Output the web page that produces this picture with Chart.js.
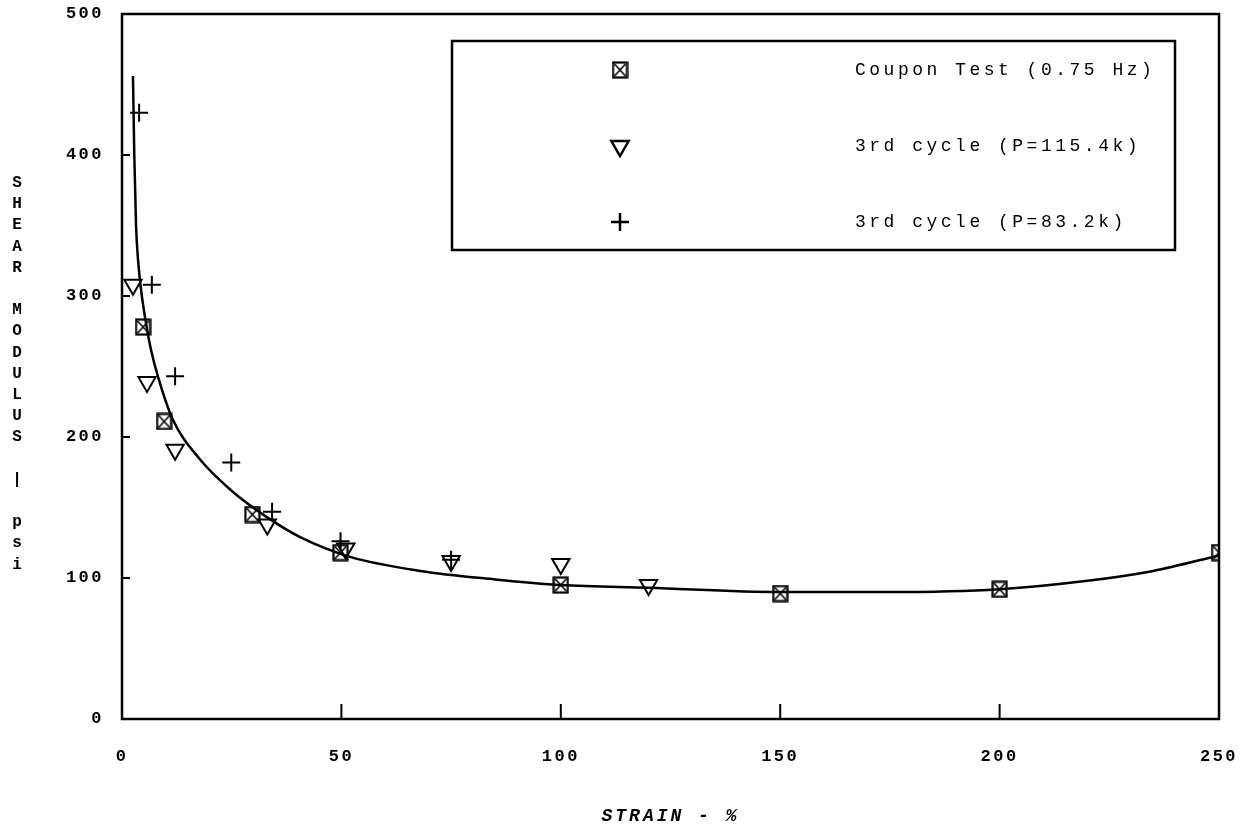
<!DOCTYPE html>
<html>
<head>
<meta charset="utf-8">
<script src="https://cdn.jsdelivr.net/npm/chart.js@4.4.0/dist/chart.umd.min.js"></script>
<style>
    html, body { margin: 0; padding: 0; background: #fff; }
    #wrap { width: 1246px; height: 826px; position: relative; }
</style>
</head>
<body>
<div id="wrap"><canvas id="shear-chart"></canvas></div>
<script>
// tick labels
const xTicks = [0, 50, 100, 150, 200, 250];
const yTicks = [0, 100, 200, 300, 400, 500];

// fitted curve
const curveX = [2.5, 2.8, 3.2, 3.7, 4.4, 5.4, 6.6, 8.0, 11.5, 17.8, 25.3, 33.1, 40.6, 52, 68, 85, 100, 120, 150, 175, 200, 220, 235, 250];
const curveY = [456, 400, 350, 324, 303, 282, 262, 245, 213, 184, 161, 143, 129, 115, 105, 99, 95, 93, 90, 90, 92, 98, 105, 116];

// Coupon Test (0.75 Hz)
const couponX = [4.8, 9.6, 29.7, 49.8, 100, 150, 200, 250];
const couponY = [278, 211, 145, 118, 95, 89, 92, 118];

// 3rd cycle (P=115.4k)
const cycleAX = [2.5, 5.7, 12.1, 33.1, 51, 75, 100, 120];
const cycleAY = [308, 239, 191, 138, 121, 112, 110, 95];

// 3rd cycle (P=83.2k)
const cycleBX = [3.9, 6.8, 12.1, 24.9, 34.2, 49.8, 75];
const cycleBY = [430, 308, 243, 182, 147, 126, 113];

const yTitle = "SHEAR MODULUS | psi";
const xTitle = "STRAIN - %";

function pairs(xs, ys) {
    return xs.map((x, i) => ({ x: x, y: ys[i] }));
}

// box with a cross in it
function boxCross(w, h) {
    const c = document.createElement("canvas");
    c.width = w;
    c.height = h;
    const g = c.getContext("2d");
    g.strokeStyle = "#000";
    g.lineWidth = 2.2;
    g.strokeRect(1.5, 1.5, w - 3, h - 3);
    g.lineWidth = 1.6;
    g.beginPath();
    g.moveTo(3, 3); g.lineTo(w - 3, h - 3);
    g.moveTo(w - 3, 3); g.lineTo(3, h - 3);
    g.stroke();
    return c;
}
const boxImg = boxCross(17, 18);

const mono = "'Liberation Mono', 'DejaVu Sans Mono', monospace";

// frame, inward ticks, stacked y title, x title and the boxed legend
const decorPlugin = {
    id: "decor",
    beforeDraw(chart) {
        chart.ctx.letterSpacing = "2.5px";
    },
    afterDraw(chart) {
        const ctx = chart.ctx;
        const a = chart.chartArea;
        const xs = chart.scales.x;
        const ys = chart.scales.y;
        ctx.save();
        ctx.strokeStyle = "#000";
        ctx.lineWidth = 2.5;
        ctx.strokeRect(a.left, a.top, a.right - a.left, a.bottom - a.top);

        ctx.lineWidth = 2;
        ctx.beginPath();
        yTicks.slice(1, -1).forEach(v => {
            const p = ys.getPixelForValue(v);
            ctx.moveTo(a.left, p); ctx.lineTo(a.left + 8, p);
        });
        xTicks.slice(1, -1).forEach(v => {
            const p = xs.getPixelForValue(v);
            ctx.moveTo(p, a.bottom); ctx.lineTo(p, a.bottom - 15);
        });
        ctx.stroke();

        ctx.fillStyle = "#000";
        ctx.textAlign = "center";
        ctx.textBaseline = "middle";
        ctx.letterSpacing = "0px";
        ctx.font = "bold 16px " + mono;
        yTitle.split("").forEach((ch, i) => {
            ctx.fillText(ch, 17, 183 + i * 21.2);
        });

        ctx.letterSpacing = "3px";
        ctx.font = "italic bold 18px " + mono;
        ctx.fillText(xTitle, (a.left + a.right) / 2, 816);

        // legend
        const lx = 452, ly = 41, lw = 723, lh = 209;
        ctx.lineWidth = 2.5;
        ctx.strokeRect(lx, ly, lw, lh);
        ctx.textAlign = "left";
        const rows = [70, 146, 222];
        chart.data.datasets.slice(1).forEach((ds, i) => {
            ctx.fillStyle = "rgba(0,0,0,0)";
            ctx.strokeStyle = "#000";
            Chart.helpers.drawPoint(ctx, {
                pointStyle: ds.pointStyle,
                radius: ds.pointRadius,
                rotation: ds.rotation || 0,
                borderWidth: ds.borderWidth
            }, 620, rows[i]);
            ctx.fillStyle = "#000";
            ctx.font = "18px " + mono;
            ctx.letterSpacing = "3.5px";
            ctx.fillText(ds.label, 855, rows[i]);
        });
        ctx.restore();
        ctx.letterSpacing = "0px";
    }
};

new Chart(document.getElementById("shear-chart"), {
    type: "scatter",
    data: {
        datasets: [
            {
                label: "fit",
                data: pairs(curveX, curveY),
                showLine: true,
                borderColor: "#000",
                borderWidth: 2.5,
                pointRadius: 0,
                cubicInterpolationMode: "monotone",
                fill: false
            },
            {
                label: "Coupon Test (0.75 Hz)",
                data: pairs(couponX, couponY),
                pointStyle: boxImg,
                pointRadius: 9,
                borderColor: "#000",
                borderWidth: 2
            },
            {
                label: "3rd cycle (P=115.4k)",
                data: pairs(cycleAX, cycleAY),
                pointStyle: "triangle",
                rotation: 180,
                pointRadius: 10,
                borderColor: "#000",
                backgroundColor: "rgba(0,0,0,0)",
                borderWidth: 2
            },
            {
                label: "3rd cycle (P=83.2k)",
                data: pairs(cycleBX, cycleBY),
                pointStyle: "cross",
                pointRadius: 9,
                borderColor: "#000",
                borderWidth: 2
            }
        ]
    },
    options: {
        responsive: true,
        maintainAspectRatio: false,
        animation: false,
        layout: { padding: { top: 14, right: 27, left: 0, bottom: 0 } },
        plugins: {
            legend: { display: false },
            tooltip: { enabled: false }
        },
        scales: {
            x: {
                type: "linear",
                min: 0,
                max: 250,
                grid: { display: false, drawTicks: false },
                border: { display: false },
                afterBuildTicks: s => { s.ticks = xTicks.map(v => ({ value: v })); },
                afterFit: s => {
                    s.height = 107;
                    s.paddingLeft = 0;
                    s.paddingRight = 0;
                },
                ticks: {
                    color: "#000",
                    padding: 28,
                    maxRotation: 0,
                    font: { family: mono, size: 17, weight: "bold" }
                }
            },
            y: {
                type: "linear",
                min: 0,
                max: 500,
                grid: { display: false, drawTicks: false },
                border: { display: false },
                afterBuildTicks: s => { s.ticks = yTicks.map(v => ({ value: v })); },
                afterFit: s => {
                    s.width = 122;
                    s.paddingTop = 0;
                    s.paddingBottom = 0;
                },
                ticks: {
                    color: "#000",
                    padding: 18,
                    font: { family: mono, size: 17, weight: "bold" }
                }
            }
        }
    },
    plugins: [decorPlugin]
});
</script>
</body>
</html>
